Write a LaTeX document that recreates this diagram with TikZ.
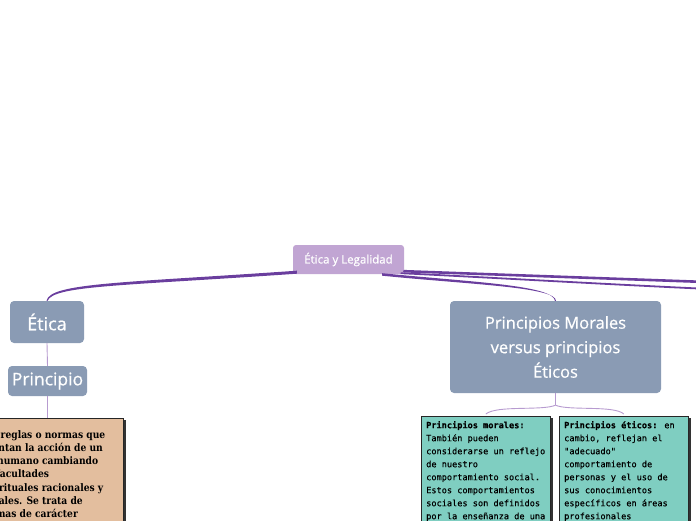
\documentclass[tikz,border=0pt]{standalone}
\usepackage{fontspec}
\setsansfont{Open Sans}[FakeBold=0.6]
\newfontfamily\serifb{DejaVu Serif}[FakeStretch=0.88]
\newfontfamily\monof{DejaVu Sans Mono}[FakeBold=0.3]
\usetikzlibrary{calc,shadows}
\definecolor{rootc}{HTML}{C1A5D3}
\definecolor{mainc}{HTML}{8A9BB4}
\definecolor{connc}{HTML}{6A3E9E}
\definecolor{lightc}{HTML}{B79BD0}
\definecolor{peachc}{HTML}{E3BE9E}
\definecolor{greenc}{HTML}{7FCEC1}
\tikzset{
  rootbox/.style={fill=rootc, rounded corners=3pt, text=white, inner sep=0pt, font=\sffamily\fontsize{11.5}{13}\selectfont},
  mainbox/.style={fill=mainc, rounded corners=4pt, text=white, inner sep=0pt, font=\sffamily},
  notebox/.style={draw=black!85, line width=0.6pt, inner sep=0pt, drop shadow={shadow xshift=3pt, shadow yshift=-2pt, fill=black!80, opacity=1}},
  conn/.style={fill=connc},
  connline/.style={draw=connc, line cap=round},
  light/.style={draw=lightc, line width=0.9pt},
  monotext/.style={anchor=north west, inner sep=0pt, align=left, font=\monof\fontsize{8.6}{13}\selectfont},
}
\begin{document}
\begin{tikzpicture}[x=1pt,y=-1pt]
\useasboundingbox (0,0) rectangle (696,520);
\clip (0,0) rectangle (696,520);

% nodes
\node[rootbox, minimum width=111, minimum height=29] (root) at (348.5,259.5) {Ética y Legalidad};
\node[mainbox, minimum width=74, minimum height=42, font=\sffamily\fontsize{18}{20}\selectfont] (etica) at (47,322) {Ética};
\node[mainbox, minimum width=79, minimum height=30, font=\sffamily\fontsize{17.5}{20}\selectfont] (principio) at (47.5,381) {Principio};
\node[mainbox, minimum width=211, minimum height=92, align=center, font=\sffamily\fontsize{16.5}{24.5}\selectfont] (pm) at (555.5,347) {Principios Morales\\versus principios\\Éticos};

% note boxes
\node[notebox, fill=peachc, anchor=north west, minimum width=163, minimum height=120] (def) at (-40,418) {};
\node[anchor=north west, inner sep=0pt, align=left, font=\serifb\bfseries\fontsize{10.4}{13.1}\selectfont] (deftext) at (-22,430.5) {Son reglas o normas que\\orientan la acción de un\\ser humano cambiando\\las facultades\\espirituales racionales y\\morales. Se trata de\\normas de carácter};

\node[notebox, fill=greenc, anchor=north west, minimum width=129, minimum height=120] (morales) at (421,416) {};
\node[monotext] (moralestext) at (426,421) {\textbf{Principios morales:}\\También pueden\\considerarse un reflejo\\de nuestro\\comportamiento social.\\Estos comportamientos\\sociales son definidos\\por la enseñanza de una};

\node[notebox, fill=greenc, anchor=north west, minimum width=129, minimum height=120] (eticos) at (559,416) {};
\node[monotext] (eticostext) at (564,421) {\textbf{Principios éticos:} en\\cambio, reflejan el\\"adecuado"\\comportamiento de\\personas y el uso de\\sus conocimientos\\específicos en áreas\\profesionales};

% off-picture targets
\coordinate (r1) at (720,282.5);
\coordinate (r2) at (720,289.5);

% tapered connectors from root
\fill[conn] ([shift={(4,-3.5)}]root.south west) .. controls (120,283) and (50,283) .. ([xshift=-0.5pt]etica.north)
  -- ([xshift=0.5pt]etica.north) .. controls (54,285.5) and (120,286) .. ([shift={(4,-0.5)}]root.south west) -- cycle;
\fill[conn] ([shift={(-22,-1)}]root.south east) .. controls (470,282) and (553,285) .. ([xshift=-0.5pt]pm.north)
  -- ([xshift=0.5pt]pm.north) .. controls (556,287) and (470,284.5) .. ([shift={(-22,1.5)}]root.south east) -- cycle;
\draw[connline, line width=2.6pt] ([shift={(0,-3)}]root.south east) -- (r1);
\draw[connline, line width=1.8pt] ([shift={(-3,-1)}]root.south east) .. controls (500,278) and (600,284) .. (r2);

% light connectors
\draw[light] (etica.south) -- (principio.north);
\draw[light] (principio.south) -- (def.north -| principio.south);
\draw[light] (pm.south) -- ++(0,12) coordinate (fork);
\draw[light] (fork) .. controls (542,411) and (497,405) .. ([yshift=2pt]morales.north);
\draw[light] (fork) .. controls (569,411) and (614,405) .. ([yshift=2pt]eticos.north);
\end{tikzpicture}
\end{document}
